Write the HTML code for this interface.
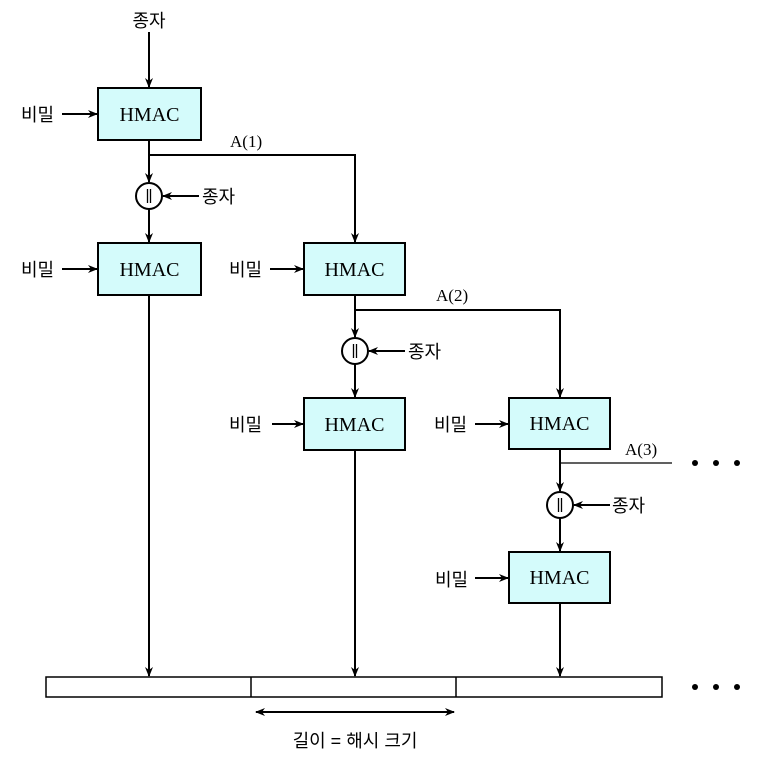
<!DOCTYPE html>
<html><head><meta charset="utf-8"><style>
body{margin:0;background:#fff;width:777px;height:760px;overflow:hidden}
svg text{font-family:"Liberation Sans","Noto Sans CJK KR",sans-serif;font-size:18px;fill:#000}
svg text.s{font-family:"Liberation Serif",serif;font-size:20px}
svg text.a{font-family:"Liberation Serif",serif;font-size:17px}
</style></head><body>
<svg width="777" height="760" viewBox="0 0 777 760" xmlns="http://www.w3.org/2000/svg">
<defs><marker id="ar" markerWidth="10" markerHeight="8" refX="9" refY="4" orient="auto" markerUnits="userSpaceOnUse"><path d="M0,0 L10,4 L0,8 L3,4 z" fill="#000"/></marker></defs>
<g stroke="#000" stroke-width="2" fill="none">
<line x1="149" y1="32" x2="149" y2="87" marker-end="url(#ar)"/>
<line x1="62" y1="114" x2="97" y2="114" marker-end="url(#ar)"/>
<line x1="62" y1="269" x2="97" y2="269" marker-end="url(#ar)"/>
<line x1="270" y1="269" x2="303" y2="269" marker-end="url(#ar)"/>
<line x1="272" y1="424" x2="303" y2="424" marker-end="url(#ar)"/>
<line x1="475" y1="424" x2="508" y2="424" marker-end="url(#ar)"/>
<line x1="475" y1="578" x2="508" y2="578" marker-end="url(#ar)"/>
<line x1="149" y1="140" x2="149" y2="182" marker-end="url(#ar)"/>
<polyline points="149,155 355,155 355,242" marker-end="url(#ar)"/>
<line x1="149" y1="209" x2="149" y2="242" marker-end="url(#ar)"/>
<line x1="199" y1="196" x2="163" y2="196" marker-end="url(#ar)"/>
<line x1="149" y1="295" x2="149" y2="676" marker-end="url(#ar)"/>
<line x1="355" y1="295" x2="355" y2="337" marker-end="url(#ar)"/>
<polyline points="355,310 560,310 560,397" marker-end="url(#ar)"/>
<line x1="355" y1="364" x2="355" y2="397" marker-end="url(#ar)"/>
<line x1="405" y1="351" x2="369" y2="351" marker-end="url(#ar)"/>
<line x1="355" y1="450" x2="355" y2="676" marker-end="url(#ar)"/>
<line x1="560" y1="449" x2="560" y2="491" marker-end="url(#ar)"/>
<line x1="560" y1="463" x2="672" y2="463" stroke-width="1.3"/>
<line x1="560" y1="518" x2="560" y2="551" marker-end="url(#ar)"/>
<line x1="610" y1="505" x2="574" y2="505" marker-end="url(#ar)"/>
<line x1="560" y1="603" x2="560" y2="676" marker-end="url(#ar)"/>
<circle cx="149" cy="196" r="13" fill="#fff"/>
<circle cx="355" cy="351" r="13" fill="#fff"/>
<circle cx="560" cy="505" r="13" fill="#fff"/>
<rect x="46" y="677" width="616" height="20" stroke-width="1.5"/>
<line x1="251" y1="677" x2="251" y2="697" stroke-width="1.5"/>
<line x1="456" y1="677" x2="456" y2="697" stroke-width="1.5"/>
<line x1="258" y1="712" x2="454" y2="712" marker-end="url(#ar)"/>
<line x1="454" y1="712" x2="256" y2="712" marker-end="url(#ar)"/>
</g>
<g stroke="#000" stroke-width="1.3">
<line x1="147.5" y1="189" x2="147.5" y2="203"/><line x1="150.5" y1="189" x2="150.5" y2="203"/>
<line x1="353.5" y1="344" x2="353.5" y2="358"/><line x1="356.5" y1="344" x2="356.5" y2="358"/>
<line x1="558.5" y1="498" x2="558.5" y2="512"/><line x1="561.5" y1="498" x2="561.5" y2="512"/>
</g>
<g fill="#d4fbfb" stroke="#000" stroke-width="2">
<rect x="98" y="88" width="103" height="52"/>
<rect x="98" y="243" width="103" height="52"/>
<rect x="304" y="243" width="101" height="52"/>
<rect x="304" y="398" width="101" height="52"/>
<rect x="509" y="398" width="101" height="51"/>
<rect x="509" y="552" width="101" height="51"/>
</g>
<text class="s" x="149.5" y="121" text-anchor="middle">HMAC</text>
<text class="s" x="149.5" y="276" text-anchor="middle">HMAC</text>
<text class="s" x="354.5" y="276" text-anchor="middle">HMAC</text>
<text class="s" x="354.5" y="431" text-anchor="middle">HMAC</text>
<text class="s" x="559.5" y="430" text-anchor="middle">HMAC</text>
<text class="s" x="559.5" y="584" text-anchor="middle">HMAC</text>
<text x="149" y="27" text-anchor="middle">종자</text>
<text x="21" y="121">비밀</text>
<text x="21" y="276">비밀</text>
<text x="229" y="276">비밀</text>
<text x="229" y="431">비밀</text>
<text x="434" y="431">비밀</text>
<text x="435" y="586">비밀</text>
<text x="202" y="203">종자</text>
<text x="408" y="358">종자</text>
<text x="612" y="512">종자</text>
<text class="a" x="230" y="147">A(1)</text>
<text class="a" x="436" y="301">A(2)</text>
<text class="a" x="625" y="455">A(3)</text>
<text x="355" y="747" text-anchor="middle">길이 = 해시 크기</text>
<g fill="#000">
<circle cx="695" cy="463" r="3"/><circle cx="716" cy="463" r="3"/><circle cx="737" cy="463" r="3"/>
<circle cx="695" cy="687" r="3"/><circle cx="716" cy="687" r="3"/><circle cx="737" cy="687" r="3"/>
</g>
</svg>
</body></html>
